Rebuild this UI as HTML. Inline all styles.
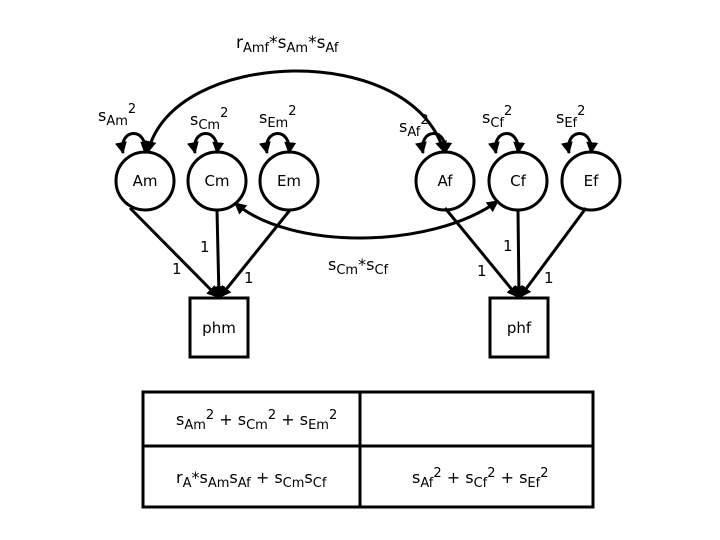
<!DOCTYPE html>
<html><head><style>body{margin:0;background:#fff}svg{display:block}text{font-family:"DejaVu Sans","Liberation Sans",sans-serif;fill:#000}</style></head>
<body>
<svg width="720" height="540" viewBox="0 0 720 540" xmlns="http://www.w3.org/2000/svg">
<defs>
<marker id="a" viewBox="0 0 10 10" refX="9" refY="5" markerWidth="4" markerHeight="4" orient="auto-start-reverse"><path d="M0,0L10,5L0,10z" fill="#000"/></marker>
</defs>
<g fill="none" stroke="#000" stroke-width="3">
<circle cx="145" cy="181" r="29"/>
<circle cx="217" cy="181" r="29"/>
<circle cx="289" cy="181" r="29"/>
<circle cx="445" cy="181" r="29"/>
<circle cx="518" cy="181" r="29"/>
<circle cx="591" cy="181" r="29"/>
<rect x="190" y="298" width="58" height="59"/>
<rect x="490" y="298" width="58" height="59"/>
<rect x="143" y="392" width="450" height="115"/>
<line x1="143" y1="446" x2="593" y2="446"/>
<line x1="360" y1="392" x2="360" y2="507"/>
<g marker-start="url(#a)" marker-end="url(#a)">
<path d="M123,153 C118,128 148,126 145,153"/>
<path d="M195,153 C190,128 220,126 217,153"/>
<path d="M267,153 C262,128 292,126 289,153"/>
<path d="M423,153 C418,128 448,126 445,153"/>
<path d="M496,153 C491,128 521,126 518,153"/>
<path d="M569,153 C564,128 594,126 591,153"/>
<path d="M148,152 C172,48 412,40 444,152"/>
<path d="M235,203 C290,250 430,250 498,201"/>
</g>
<g marker-end="url(#a)">
<line x1="130" y1="208" x2="218" y2="297"/>
<line x1="217" y1="210" x2="219" y2="297"/>
<line x1="290" y1="210" x2="220" y2="297"/>
<line x1="445" y1="208" x2="518" y2="297"/>
<line x1="518" y1="210" x2="519" y2="297"/>
<line x1="586" y1="208" x2="520" y2="297"/>
</g>
</g>
<g font-size="15">
<text x="145" y="186" text-anchor="middle">Am</text>
<text x="217" y="186" text-anchor="middle">Cm</text>
<text x="289" y="186" text-anchor="middle">Em</text>
<text x="445" y="186" text-anchor="middle">Af</text>
<text x="518" y="186" text-anchor="middle">Cf</text>
<text x="591" y="186" text-anchor="middle">Ef</text>
<text x="219" y="333" text-anchor="middle">phm</text>
<text x="519" y="333" text-anchor="middle">phf</text>
<text x="172" y="274">1</text><text x="200" y="252">1</text><text x="244" y="283">1</text>
<text x="477" y="276">1</text><text x="503" y="251">1</text><text x="544" y="283">1</text>
</g>
<g font-size="17">
<text x="236" y="48">r<tspan font-size="13" dy="4">Amf</tspan><tspan dy="-4">*s</tspan><tspan font-size="13" dy="4">Am</tspan><tspan dy="-4">*s</tspan><tspan font-size="13" dy="4">Af</tspan></text>
</g>
<g font-size="16">
<text x="98" y="121">s<tspan font-size="13" dy="4">Am</tspan><tspan font-size="13" dy="-12">2</tspan></text>
<text x="190" y="125">s<tspan font-size="13" dy="4">Cm</tspan><tspan font-size="13" dy="-12">2</tspan></text>
<text x="259" y="123">s<tspan font-size="13" dy="4">Em</tspan><tspan font-size="13" dy="-12">2</tspan></text>
<text x="399" y="132">s<tspan font-size="13" dy="4">Af</tspan><tspan font-size="13" dy="-12">2</tspan></text>
<text x="482" y="123">s<tspan font-size="13" dy="4">Cf</tspan><tspan font-size="13" dy="-12">2</tspan></text>
<text x="556" y="123">s<tspan font-size="13" dy="4">Ef</tspan><tspan font-size="13" dy="-12">2</tspan></text>
<text x="328" y="270">s<tspan font-size="13" dy="4">Cm</tspan><tspan dy="-4">*s</tspan><tspan font-size="13" dy="4">Cf</tspan></text>
<text x="176" y="425">s<tspan font-size="13" dy="4">Am</tspan><tspan font-size="13" dy="-10">2</tspan><tspan dy="6"> + s</tspan><tspan font-size="13" dy="4">Cm</tspan><tspan font-size="13" dy="-10">2</tspan><tspan dy="6"> + s</tspan><tspan font-size="13" dy="4">Em</tspan><tspan font-size="13" dy="-10">2</tspan></text>
<text x="176" y="483">r<tspan font-size="13" dy="4">A</tspan><tspan dy="-4">*s</tspan><tspan font-size="13" dy="4">Am</tspan><tspan dy="-4">s</tspan><tspan font-size="13" dy="4">Af</tspan><tspan dy="-4"> + s</tspan><tspan font-size="13" dy="4">Cm</tspan><tspan dy="-4">s</tspan><tspan font-size="13" dy="4">Cf</tspan></text>
<text x="412" y="483">s<tspan font-size="13" dy="4">Af</tspan><tspan font-size="13" dy="-10">2</tspan><tspan dy="6"> + s</tspan><tspan font-size="13" dy="4">Cf</tspan><tspan font-size="13" dy="-10">2</tspan><tspan dy="6"> + s</tspan><tspan font-size="13" dy="4">Ef</tspan><tspan font-size="13" dy="-10">2</tspan></text>
</g>
</svg>
</body></html>
